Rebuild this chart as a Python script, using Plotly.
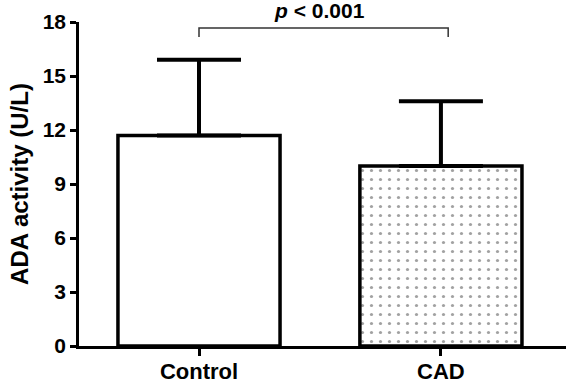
import plotly.graph_objects as go

categories = ["Control", "CAD"]
means = [11.7, 10.0]
sds = [4.2, 3.6]
y_ticks = [0, 3, 6, 9, 12, 15, 18]
p_text = "<b><i>p</i> &lt; 0.001</b>"

FONT = "Liberation Sans, Arial, sans-serif"
xpos = list(range(len(categories)))

fig = go.Figure()
fig.add_trace(go.Bar(
    x=xpos,
    y=means,
    width=0.67,
    marker=dict(
        color=["white", "white"],
        line=dict(color="black", width=3.5),
        pattern=dict(shape=["", "."], fgcolor="black", bgcolor="white",
                     size=9, solidity=0.1, fillmode="overlay"),
    ),
    error_y=dict(type="data", symmetric=False, array=sds,
                 arrayminus=[0, 0], color="black", thickness=4, width=42),
    showlegend=False,
))

# significance bracket
fig.add_trace(go.Scatter(
    x=[0, 0, 1.03, 1.03],
    y=[17.17, 17.67, 17.67, 17.17],
    mode="lines",
    line=dict(color="#333333", width=1.5),
    showlegend=False,
    hoverinfo="skip",
    cliponaxis=False,
))

fig.add_annotation(x=0.5, y=1.0, xref="x", yref="paper", yanchor="bottom", yshift=-2,
                   text=p_text, showarrow=False,
                   font=dict(family=FONT, size=21, color="black"))

fig.update_layout(
    width=568, height=383,
    margin=dict(l=79, r=2, t=22, b=37, autoexpand=False),
    paper_bgcolor="white", plot_bgcolor="white",
    font=dict(family=FONT, color="black"),
)
fig.update_xaxes(
    range=[-0.496, 1.517],
    tickvals=xpos,
    ticktext=[f"<b>{c}</b>" for c in categories],
    showline=True, linecolor="black", linewidth=2.5,
    ticks="outside", ticklen=7, tickwidth=2.5, tickcolor="black",
    tickfont=dict(family=FONT, size=22, color="black"),
    ticklabelstandoff=-3,
    showgrid=False, zeroline=False, automargin=False,
)
fig.update_yaxes(
    range=[0, 18],
    tickvals=y_ticks,
    ticktext=[f"<b>{v}</b>" for v in y_ticks],
    showline=True, linecolor="black", linewidth=2.5,
    ticks="outside", ticklen=6, tickwidth=2.5, tickcolor="black",
    tickfont=dict(family=FONT, size=21, color="black"),
    title=dict(text="<b>ADA activity (U/L)</b>", font=dict(family=FONT, size=24, color="black"), standoff=8),
    showgrid=False, zeroline=False, automargin=False,
)

fig.write_html("out.html", config={"displayModeBar": False},
               post_script="document.body.style.margin='0';document.body.style.padding='0';")
